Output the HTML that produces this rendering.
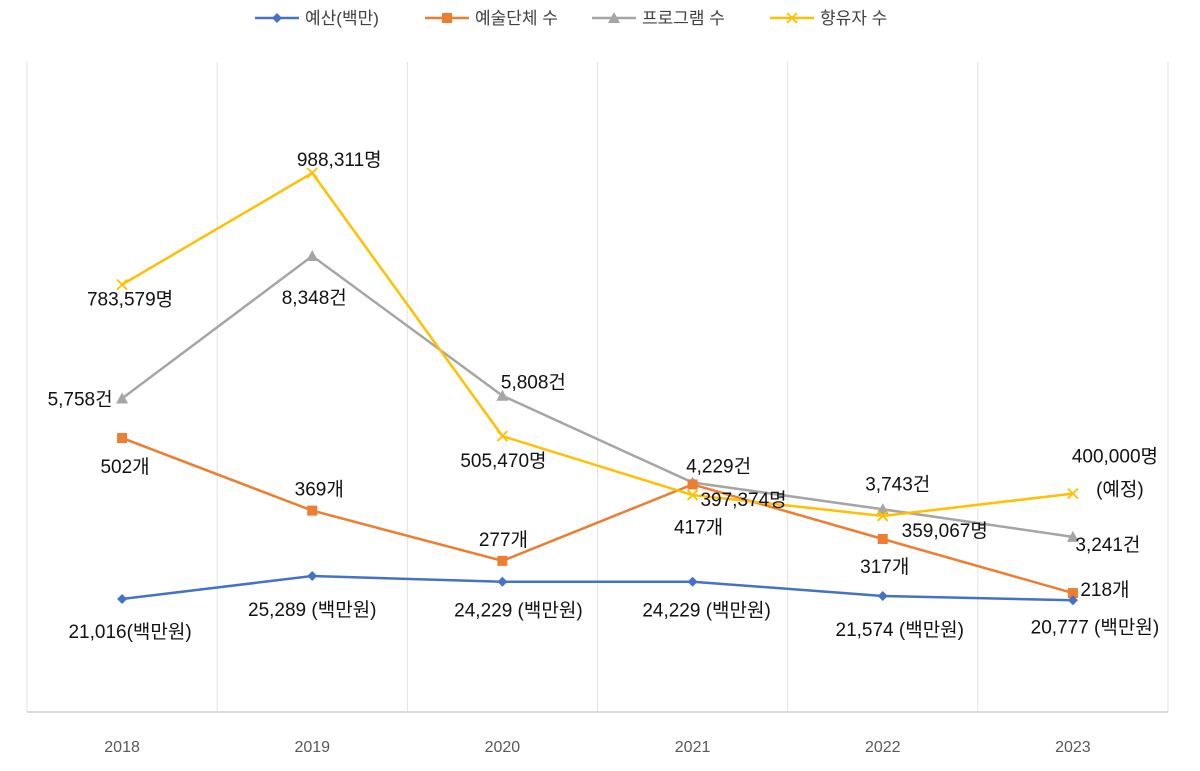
<!DOCTYPE html>
<html><head><meta charset="utf-8"><style>
body{margin:0;background:#fff}
svg text{font-family:"Liberation Sans","Noto Sans CJK KR",sans-serif}
</style></head><body>
<svg id="chart" width="1200" height="766" viewBox="0 0 1200 766" xmlns="http://www.w3.org/2000/svg"></svg>
<script>
const categories = ["2018","2019","2020","2021","2022","2023"];
const budget = [21016, 25289, 24229, 24229, 21574, 20777];
const orgs = [502, 369, 277, 417, 317, 218];
const programs = [5758, 8348, 5808, 4229, 3743, 3241];
const audience = [783579, 988311, 505470, 397374, 359067, 400000];
const budgetLabels = ["21,016(백만원)","25,289 (백만원)","24,229 (백만원)","24,229 (백만원)","21,574 (백만원)","20,777 (백만원)"];
const orgLabels = ["502개","369개","277개","417개","317개","218개"];
const progLabels = ["5,758건","8,348건","5,808건","4,229건","3,743건","3,241건"];
const audLabels = ["783,579명","988,311명","505,470명","397,374명","359,067명","400,000명"];

const svg = document.getElementById('chart');
const NS = 'http://www.w3.org/2000/svg';
function el(tag, attrs, parent){const e=document.createElementNS(NS,tag);for(const k in attrs)e.setAttribute(k,attrs[k]);(parent||svg).appendChild(e);return e;}

const left=27, right=1168, base=712;
const bw=(right-left)/categories.length;
const x=i=>left+bw*(i+0.5);
// per-series scales (each series on its own axis)
const yBudget=v=>599-(v-21016)*0.00538;
const yOrg=v=>438+(502-v)*0.546;
const yProg=v=>256+(8348-v)*0.055;
const yAud=v=>173+(988311-v)*0.000545;

// grid
for(let i=0;i<=categories.length;i++){
  const g=el('line',{x1:left+bw*i,x2:left+bw*i,y1:62,y2:base,stroke:'#e3e3e3','stroke-width':1});
  
  
}
const ax=el('line',{x1:left,x2:right,y1:base,y2:base,stroke:'#d0d0d0','stroke-width':1.5});


categories.forEach((c,i)=>{
  const t=el('text',{x:x(i),y:752,'text-anchor':'middle','font-size':16,fill:'#595959'});
  t.textContent=c;
  
  
});

function marker(type,cx,cy,color){
  let m;
  if(type==='diamond') m=el('polygon',{points:`${cx},${cy-5} ${cx+5},${cy} ${cx},${cy+5} ${cx-5},${cy}`,fill:color});
  else if(type==='square') m=el('rect',{x:cx-5,y:cy-5,width:10,height:10,fill:color});
  else if(type==='triangle') m=el('polygon',{points:`${cx},${cy-6} ${cx+6},${cy+5} ${cx-6},${cy+5}`,fill:color});
  else m=el('path',{d:`M${cx-5},${cy-5}L${cx+5},${cy+5}M${cx+5},${cy-5}L${cx-5},${cy+5}`,stroke:color,'stroke-width':1.8,fill:'none'});
  return m;
}
function series(name,vals,ys,color,type,labels,offs){
  const g=el('g',{});
  
  
  const p=el('polyline',{points:vals.map((v,i)=>x(i)+','+ys(v)).join(' '),fill:'none',stroke:color,'stroke-width':2.5},g);
  
  
  vals.forEach((v,i)=>{
    const m=marker(type,x(i),ys(v),color);g.appendChild(m);
    
    
    const t=el('text',{x:x(i)+offs[i][0],y:ys(v)+offs[i][1],'text-anchor':'middle','font-size':19,fill:'#111'},g);
    t.textContent=labels[i];
    
    
  });
}
series('programs',programs,yProg,'#a5a5a5','triangle',progLabels,[[-42,7],[2,48],[31,-7],[26,-10],[15,-19],[35,14]]);
series('orgs',orgs,yOrg,'#ed7d31','square',orgLabels,[[3,35],[7,-15],[1,-15],[6,49],[2,34],[32,3]]);
series('budget',budget,yBudget,'#4472c4','diamond',budgetLabels,[[8,39],[0,40],[16,35],[14,35],[17,40],[22,33]]);
series('audience',audience,yAud,'#ffc000','x',audLabels,[[8,21],[27,-7],[1,31],[51,11],[62,21],[42,-31]]);
const pe=el('text',{x:x(5)+47,y:yAud(audience[5])+2,'text-anchor':'middle','font-size':19,fill:'#111'});
pe.textContent='(예정)';



// legend
const legend=[["예산(백만)",'#4472c4','diamond',255],["예술단체 수",'#ed7d31','square',425],["프로그램 수",'#a5a5a5','triangle',592],["향유자 수",'#ffc000','x',770]];
legend.forEach(l=>{
  const g=el('g',{});
  
  
  el('line',{x1:l[3],x2:l[3]+44,y1:18,y2:18,stroke:l[1],'stroke-width':2.5},g);
  g.appendChild(marker(l[2],l[3]+22,18,l[1]));
  const t=el('text',{x:l[3]+50,y:24,'font-size':17,fill:'#404040'},g);
  t.textContent=l[0];
});
</script>
</body></html>
